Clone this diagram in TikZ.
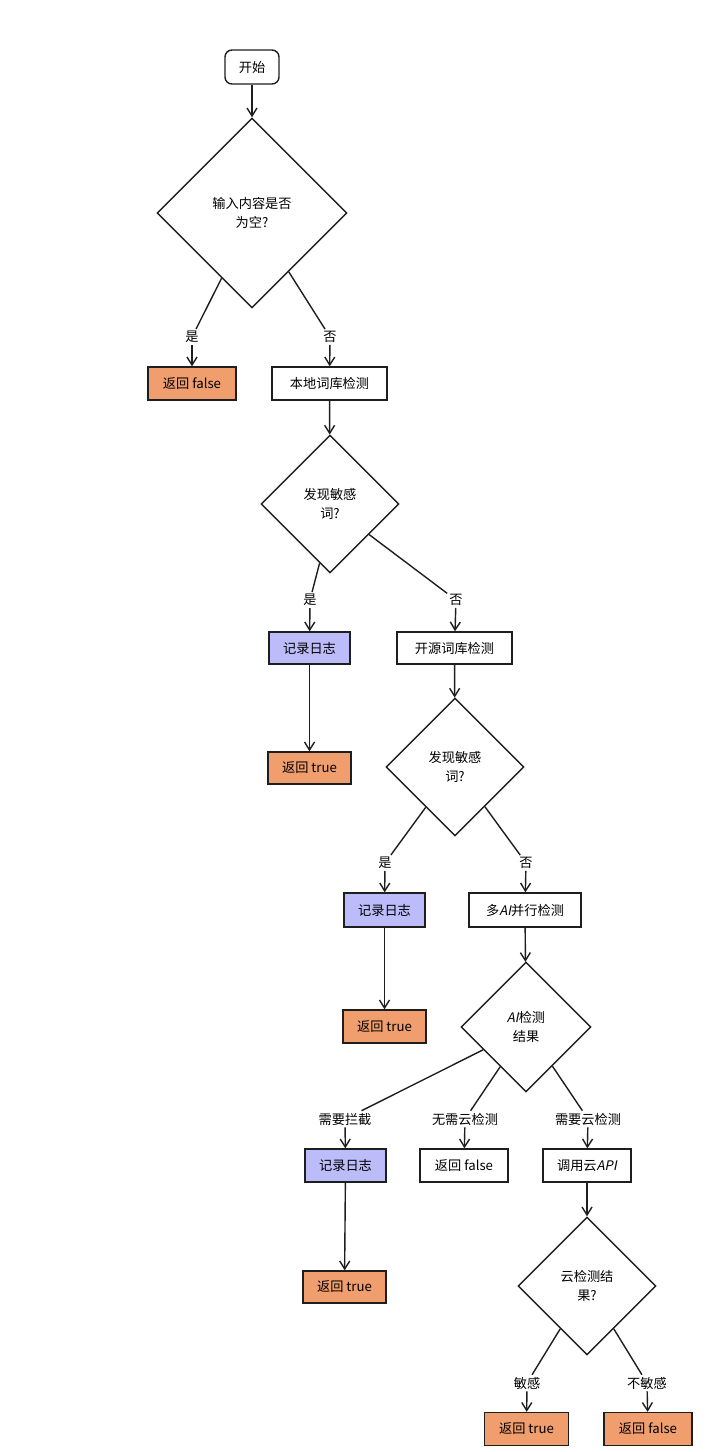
\documentclass[tikz,border=0pt]{standalone}
\usepackage{fontspec}
\setmainfont{Noto Sans CJK SC}
\newfontfamily\slantcjk{Noto Sans CJK SC}[FakeSlant=0.2]
\usetikzlibrary{shapes.geometric,arrows.meta}
\definecolor{inkline}{RGB}{30,30,30}
\definecolor{endorange}{RGB}{240,158,110}
\definecolor{loglilac}{RGB}{188,188,250}
\newcommand{\flowfont}{\fontsize{13.2}{19}\selectfont}
\newcommand{\latin}[1]{{\slantcjk #1}}

\begin{document}
\begin{tikzpicture}[x=1pt,y=1pt]
\tikzset{
  base/.style={draw=inkline, line width=1.4pt, font=\flowfont, inner sep=0pt},
  startbox/.style={base, rounded corners=7pt, minimum width=54pt, minimum height=34pt},
  procbox/.style={base, fill=white, minimum height=33pt},
  endbox/.style={procbox, fill=endorange},
  logbox/.style={procbox, fill=loglilac},
  decision/.style={base, diamond, aspect=1, align=center, fill=white},
  edgelabel/.style={font=\flowfont, inner sep=2pt},
  conn/.style={draw=inkline, line width=1.4pt},
  arrowconn/.style={conn, -{Straight Barb[length=8pt,width=10pt]}},
}
\useasboundingbox (0,0) rectangle (726,-1452);
% start and first check
\node[startbox] (start) at (252,-67) {开始};
\node[decision, minimum width=190pt, minimum height=190pt] (isempty) at (252,-213) {输入内容是否\\为空?};
\node[endbox, minimum width=88pt] (emptyfalse) at (192,-383.5) {返回 false};
\node[procbox, minimum width=115pt] (localcheck) at (329.5,-383.5) {本地词库检测};
\node[edgelabel] (emptyyes) at (192,-337) {是};
\node[edgelabel] (emptyno) at (330,-337) {否};
% local word list
\node[decision, minimum width=138pt, minimum height=138pt] (localhit) at (330,-504) {发现敏感\\词?};
\node[logbox, minimum width=81pt, minimum height=32pt] (locallog) at (309.5,-648) {记录日志};
\node[endbox, minimum width=83pt, minimum height=32pt] (localtrue) at (309.5,-768) {返回 true};
\node[procbox, minimum width=115pt, minimum height=32pt] (opencheck) at (454.5,-648) {开源词库检测};
\node[edgelabel] (localyes) at (310,-600) {是};
\node[edgelabel] (localno) at (456,-600) {否};
% open word list
\node[decision, minimum width=138pt, minimum height=138pt] (openhit) at (455,-767) {发现敏感\\词?};
\node[logbox, minimum width=81pt, minimum height=34pt] (openlog) at (384.5,-910) {记录日志};
\node[procbox, minimum width=112pt, minimum height=34pt] (aicheck) at (525,-910) {多\latin{AI}并行检测};
\node[endbox, minimum width=83pt] (opentrue) at (384.5,-1026.5) {返回 true};
\node[edgelabel] (openyes) at (385,-863) {是};
\node[edgelabel] (openno) at (526,-863) {否};
% AI result
\node[decision, minimum width=130pt, minimum height=130pt] (airesult) at (526,-1027) {\latin{AI}检测\\结果};
\node[edgelabel] (aiblock) at (345,-1119) {需要拦截};
\node[edgelabel] (aipass) at (465,-1119) {无需云检测};
\node[edgelabel] (aicloud) at (588,-1119) {需要云检测};
\node[logbox, minimum width=81pt] (ailog) at (345.5,-1165.5) {记录日志};
\node[procbox, minimum width=88pt] (aifalse) at (464,-1165.5) {返回 false};
\node[procbox, minimum width=88pt] (cloudapi) at (587,-1165.5) {调用云\latin{API}};
\node[endbox, minimum width=83pt, minimum height=32pt] (aitrue) at (344.5,-1287) {返回 true};
% cloud result
\node[decision, minimum width=138pt, minimum height=138pt] (cloudresult) at (587,-1286) {云检测结\\果?};
\node[edgelabel] (cloudyes) at (527,-1383) {敏感};
\node[edgelabel] (cloudno) at (647,-1383) {不敏感};
\node[endbox, minimum width=84pt] (cloudtrue) at (526.5,-1429) {返回 true};
\node[endbox, minimum width=88pt] (cloudfalse) at (648,-1429) {返回 false};

% connectors
\draw[arrowconn] (start) -- (isempty);
\draw[conn] (isempty.-115) -- (emptyyes);
\draw[arrowconn] (emptyyes) -- (emptyfalse);
\draw[conn] (isempty.-58) -- (emptyno);
\draw[arrowconn] (emptyno) -- (localcheck);
\draw[arrowconn] (localcheck) -- (localhit);
\draw[conn] (localhit.-100) -- (localyes);
\draw[arrowconn] (localyes) -- (locallog);
\draw[conn] (localhit.-38) -- (localno);
\draw[arrowconn] (localno) -- (opencheck);
\draw[arrowconn] (locallog) -- (localtrue);
\draw[arrowconn] (opencheck) -- (openhit);
\draw[conn] (openhit.-126) -- (openyes);
\draw[arrowconn] (openyes) -- (openlog);
\draw[conn] (openhit.-53) -- (openno);
\draw[arrowconn] (openno) -- (aicheck);
\draw[arrowconn] (openlog) -- (opentrue);
\draw[arrowconn] (aicheck) -- (airesult);
\draw[conn] (airesult.-152) -- (aiblock);
\draw[arrowconn] (aiblock) -- (ailog);
\draw[conn] (airesult.-123) -- (aipass);
\draw[arrowconn] (aipass) -- (aifalse);
\draw[conn] (airesult.-56) -- (aicloud);
\draw[arrowconn] (aicloud) -- (cloudapi);
\draw[arrowconn] (ailog) -- (aitrue);
\draw[arrowconn] (cloudapi) -- (cloudresult);
\draw[conn] (cloudresult.-122) -- (cloudyes);
\draw[arrowconn] (cloudyes) -- (cloudtrue);
\draw[conn] (cloudresult.-58) -- (cloudno);
\draw[arrowconn] (cloudno) -- (cloudfalse);
\end{tikzpicture}
\end{document}
